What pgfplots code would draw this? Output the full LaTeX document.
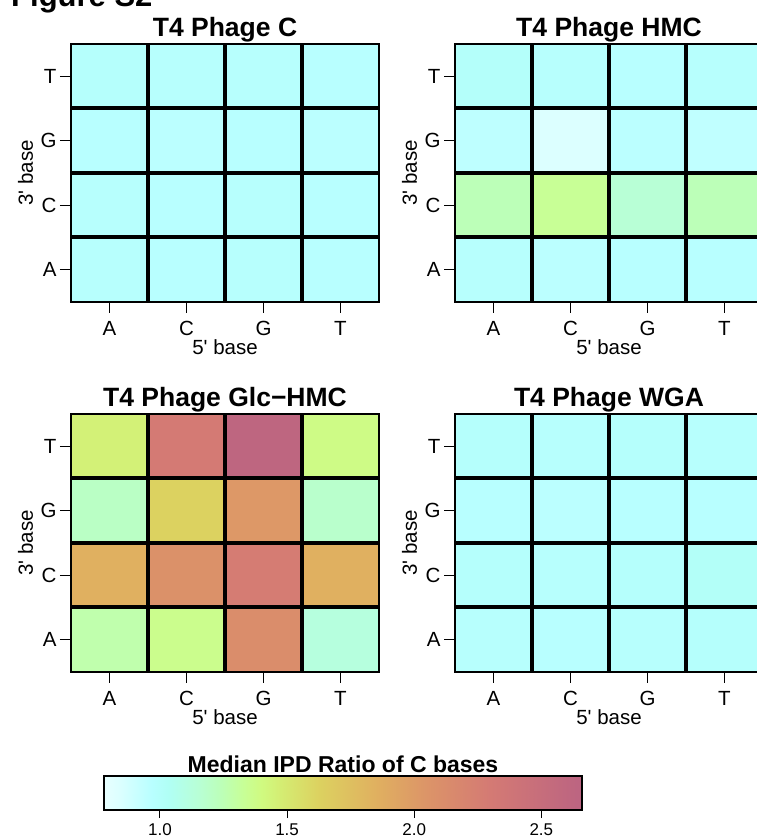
\documentclass[border=0pt]{standalone}
\usepackage{pgfplots}
\pgfplotsset{compat=1.18}
\usepackage{fontspec}
\setmainfont{Liberation Sans}
\pgfplotsset{
  colormap={ipd}{
    rgb255(78pt)=(232,255,255)
    rgb255(84pt)=(220,255,255)
    rgb255(97pt)=(184,255,255)
    rgb255(103pt)=(176,255,245)
    rgb255(115pt)=(184,255,214)
    rgb255(124pt)=(188,255,184)
    rgb255(133pt)=(200,255,150)
    rgb255(140pt)=(208,250,128)
    rgb255(147pt)=(212,238,116)
    rgb255(162pt)=(220,210,96)
    rgb255(185pt)=(224,176,96)
    rgb255(205pt)=(220,148,104)
    rgb255(230pt)=(212,122,116)
    rgb255(262pt)=(190,102,128)
    rgb255(266pt)=(188,100,130)
  },
  hm/.style={
    scale only axis, width=308pt, height=258pt, anchor=south west,
    xmin=-0.5, xmax=3.5, ymin=-0.5, ymax=3.5,
    xtick={0,1,2,3}, ytick={0,1,2,3},
    xticklabels={A,C,G,T}, yticklabels={A,C,G,T},
    tick pos=left, tick align=outside, major tick length=11pt,
    tick style={black, line width=1.3pt},
    axis line style={line width=2.5pt},
    extra x ticks={0.5,1.5,2.5}, extra y ticks={0.5,1.5,2.5},
    extra x tick labels={}, extra y tick labels={},
    extra tick style={grid=major, major grid style={black, line width=4pt}, major tick length=0pt},
    axis on top,
    colormap name=ipd, point meta min=0.78, point meta max=2.66,
    ticklabel style={font=\fontsize{20.5}{20.5}\selectfont},
    xticklabel style={yshift=-5pt},
    yticklabel style={xshift=0pt},
    label style={font=\fontsize{20.5}{20.5}\selectfont},
    xlabel={5\textquotesingle\ base}, ylabel={3\textquotesingle\ base},
    x label style={at={(axis description cs:0.5,-0.2054)}, anchor=base},
    y label style={at={(axis description cs:-0.1234,0.5)}, anchor=base},
    title style={font=\bfseries\fontsize{26.5}{26.5}\selectfont, at={(axis description cs:0.5,1)}, anchor=base, yshift=1.5pt},
  },
  hmplot/.style={matrix plot*, mesh/cols=4, point meta=explicit, shader=flat corner}
}
\begin{document}
\begin{tikzpicture}
\useasboundingbox (0,0) rectangle (756pt,838pt);
\node[anchor=base west, font=\bfseries\fontsize{31}{31}\selectfont, inner sep=0pt] at (11pt,831.5pt) {Figure S2};

\begin{axis}[hm, at={(71pt,536pt)}, title={T4 Phage C}]
\addplot[hmplot] table[meta=z] {
x y z
0 0 0.98
1 0 0.97
2 0 0.98
3 0 0.97
0 1 0.98
1 1 0.97
2 1 0.98
3 1 0.97
0 2 0.97
1 2 0.96
2 2 0.97
3 2 0.96
0 3 0.99
1 3 0.98
2 3 0.98
3 3 0.97
};
\end{axis}

\begin{axis}[hm, at={(455pt,536pt)}, title={T4 Phage HMC}]
\addplot[hmplot] table[meta=z] {
x y z
0 0 0.98
1 0 0.96
2 0 0.97
3 0 0.97
0 1 1.24
1 1 1.33
2 1 1.15
3 1 1.24
0 2 0.95
1 2 0.84
2 2 0.96
3 2 0.94
0 3 1.00
1 3 0.98
2 3 0.97
3 3 0.98
};
\end{axis}

\begin{axis}[hm, at={(71pt,166pt)}, title={T4 Phage Glc\textminus HMC}]
\addplot[hmplot] table[meta=z] {
x y z
0 0 1.27
1 0 1.36
2 0 2.12
3 0 1.12
0 1 1.85
1 1 2.08
2 1 2.28
3 1 1.85
0 2 1.20
1 2 1.62
2 2 2.02
3 2 1.18
0 3 1.45
1 3 2.30
2 3 2.62
3 3 1.38
};
\end{axis}

\begin{axis}[hm, at={(455pt,166pt)}, title={T4 Phage WGA}]
\addplot[hmplot] table[meta=z] {
x y z
0 0 0.98
1 0 0.97
2 0 0.98
3 0 0.99
0 1 0.99
1 1 0.98
2 1 0.99
3 1 1.01
0 2 0.97
1 2 0.96
2 2 0.97
3 2 0.97
0 3 0.99
1 3 0.98
2 3 0.99
3 3 0.98
};
\end{axis}

% colour key
\begin{axis}[at={(104pt,28pt)}, anchor=south west, scale only axis, width=478pt, height=34pt,
  xmin=0.78, xmax=2.66, ymin=0, ymax=1,
  ytick=\empty, xtick={1,1.5,2,2.5},
  xtick pos=left, xtick align=outside, major tick length=8pt,
  tick style={black, line width=1pt},
  axis line style={line width=2pt},
  axis on top,
  colormap name=ipd, point meta min=0.78, point meta max=2.66,
  xticklabel style={font=\fontsize{17}{17}\selectfont, yshift=-2pt},
  /pgf/number format/.cd, fixed, fixed zerofill, precision=1, assume math mode=true,
  /pgfplots/.cd,
  title={Median IPD Ratio of C bases},
  title style={font=\bfseries\fontsize{23}{23}\selectfont, at={(axis description cs:0.5,1)}, anchor=base, yshift=-2pt},
  ]
\addplot[surf, shader=interp, mesh/rows=2, point meta=x] coordinates {
(0.78,0) (0.84,0) (0.97,0) (1.03,0) (1.15,0) (1.24,0) (1.33,0) (1.40,0) (1.47,0) (1.62,0) (1.85,0) (2.05,0) (2.30,0) (2.62,0) (2.66,0)

(0.78,1) (0.84,1) (0.97,1) (1.03,1) (1.15,1) (1.24,1) (1.33,1) (1.40,1) (1.47,1) (1.62,1) (1.85,1) (2.05,1) (2.30,1) (2.62,1) (2.66,1)
};
\end{axis}
\end{tikzpicture}
\end{document}
